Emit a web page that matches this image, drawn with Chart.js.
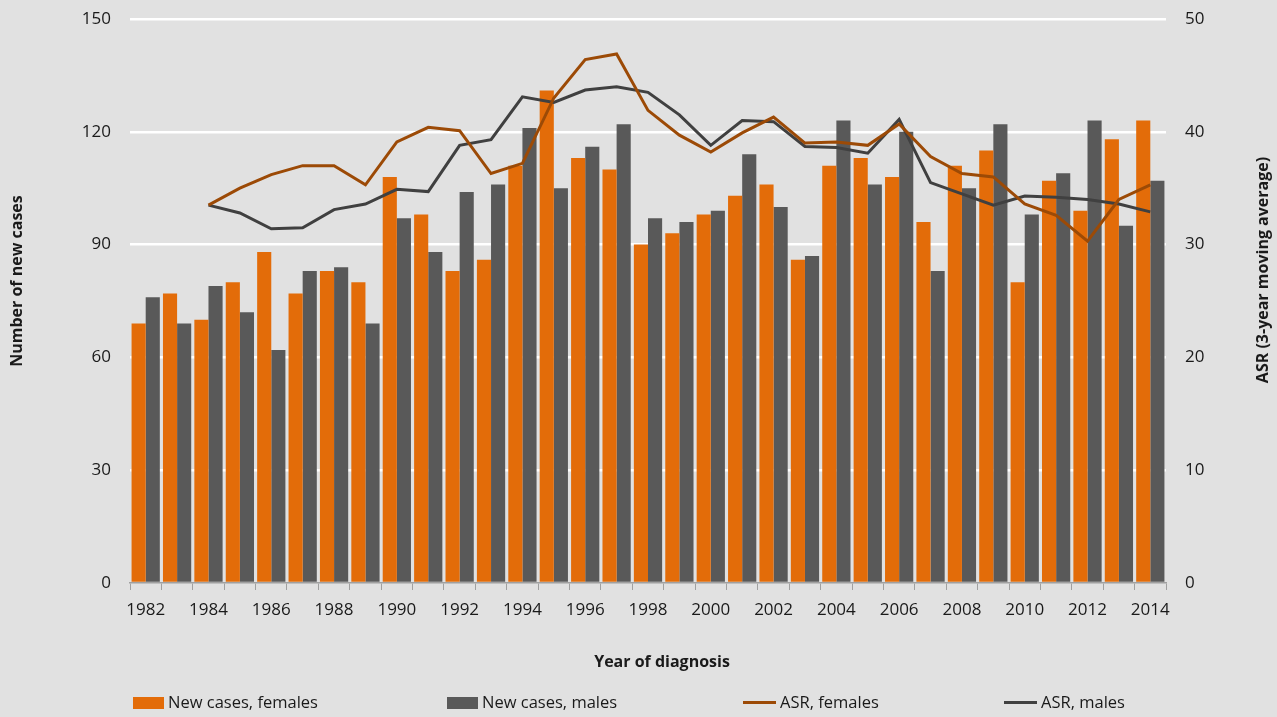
<!DOCTYPE html>
<html>
<head>
<meta charset="utf-8">
<script src="https://cdn.jsdelivr.net/npm/chart.js@4"></script>
<style>
  html, body { margin: 0; padding: 0; background: #e1e1e1; }
  #wrap { position: relative; width: 1277px; height: 717px; }
  #legend { position: absolute; left: 0; top: 690px; width: 1277px; height: 24px;
            font: 16.5px "Open Sans", sans-serif; color: #1a1a1a; }
  .item { position: absolute; top: 0; height: 24px; line-height: 24px; white-space: nowrap; }
  .item i { position: absolute; display: block; }
  .item span { position: absolute; }
</style>
</head>
<body>
<div id="wrap">
  <canvas id="chart" width="1277" height="717"></canvas>
  <div id="legend"></div>
</div>
<script>
// years of diagnosis
var years = ['1982', '1983', '1984', '1985', '1986', '1987', '1988', '1989', '1990', '1991', '1992',
  '1993', '1994', '1995', '1996', '1997', '1998', '1999', '2000', '2001', '2002', '2003',
  '2004', '2005', '2006', '2007', '2008', '2009', '2010', '2011', '2012', '2013', '2014'];

// number of new cases
var femaleCases = [69, 77, 70, 80, 88, 77, 83, 80, 108, 98, 83, 86, 111, 131, 113, 110, 90, 93,
  98, 103, 106, 86, 111, 113, 108, 96, 111, 115, 80, 107, 99, 118, 123];
var maleCases = [76, 69, 79, 72, 62, 83, 84, 69, 97, 88, 104, 106, 121, 105, 116, 122, 97, 96,
  99, 114, 100, 87, 123, 106, 120, 83, 105, 122, 98, 109, 123, 95, 107];

// ASR, 3-year moving average (no value for the first two years)
var asrFemales = [null, null, 33.5, 35.0, 36.2, 37.0, 37.0, 35.3, 39.1, 40.4, 40.1, 36.3, 37.2,
  43.0, 46.4, 46.9, 41.9, 39.7, 38.2, 39.9, 41.3, 39.0, 39.1, 38.8, 40.7, 37.8, 36.3, 36.0,
  33.6, 32.6, 30.3, 34.0, 35.3];
var asrMales = [null, null, 33.5, 32.8, 31.4, 31.5, 33.1, 33.6, 34.9, 34.7, 38.8, 39.3, 43.1,
  42.6, 43.7, 44.0, 43.5, 41.5, 38.8, 41.0, 40.9, 38.7, 38.6, 38.1, 41.1, 35.5, 34.5, 33.5,
  34.3, 34.2, 34.0, 33.6, 32.9];

var ORANGE = '#e36c09';
var GREY = '#595959';
var BROWN = '#9c4a06';
var DARK = '#404040';
var TEXT = '#1a1a1a';

var tickFont = { family: 'Open Sans', size: 17 };

// axis titles, drawn by hand so the right one reads bottom-to-top like the left one
var axisTitles = {
  id: 'axisTitles',
  afterDraw: function(chart) {
    var ctx = chart.ctx;
    ctx.save();
    ctx.fillStyle = TEXT;
    ctx.font = 'bold 16px "Open Sans"';
    ctx.textAlign = 'center';
    ctx.textBaseline = 'middle';
    ctx.fillText('Year of diagnosis', 662, 662);

    ctx.translate(17, 281);
    ctx.rotate(-Math.PI / 2);
    ctx.fillText('Number of new cases', 0, 0);
    ctx.restore();

    ctx.save();
    ctx.fillStyle = TEXT;
    ctx.font = 'bold 16px "Open Sans"';
    ctx.textAlign = 'center';
    ctx.textBaseline = 'middle';
    ctx.translate(1263, 270);
    ctx.rotate(-Math.PI / 2);
    ctx.fillText('ASR (3-year moving average)', 0, 0);
    ctx.restore();
  }
};

// fixed axis widths; drop the extra top/bottom room chart.js reserves from tick padding
function fitVertical(width) {
  return function(scale) {
    scale.width = width;
    scale.paddingTop = 0;
    scale.paddingBottom = 0;
  };
}

var data = {
  labels: years,
  datasets: [{
    type: 'line',
    label: 'ASR, females',
    data: asrFemales,
    yAxisID: 'y2',
    borderColor: BROWN,
    backgroundColor: BROWN,
    borderWidth: 3,
    pointRadius: 0,
    tension: 0,
    order: 1
  }, {
    type: 'line',
    label: 'ASR, males',
    data: asrMales,
    yAxisID: 'y2',
    borderColor: DARK,
    backgroundColor: DARK,
    borderWidth: 3,
    pointRadius: 0,
    tension: 0,
    order: 1
  }, {
    type: 'bar',
    label: 'New cases, females',
    data: femaleCases,
    yAxisID: 'y',
    backgroundColor: ORANGE,
    barPercentage: 1.0,
    categoryPercentage: 0.9,
    order: 2
  }, {
    type: 'bar',
    label: 'New cases, males',
    data: maleCases,
    yAxisID: 'y',
    backgroundColor: GREY,
    barPercentage: 1.0,
    categoryPercentage: 0.9,
    order: 2
  }]
};

var options = {
  responsive: false,
  animation: false,
  layout: { padding: { top: 19, left: 0, right: 0, bottom: 40 } },
  plugins: {
    legend: { display: false },
    tooltip: { enabled: false }
  },
  scales: {
    x: {
      offset: true,
      grid: {
        offset: true,
        drawOnChartArea: false,
        drawTicks: true,
        tickLength: 7,
        color: '#a0a0a0'
      },
      border: { display: true, color: '#a0a0a0', width: 1.5 },
      ticks: {
        autoSkip: false,
        maxRotation: 0,
        padding: 10,
        color: TEXT,
        font: tickFont,
        callback: function(value, index) {
          return index % 2 === 0 ? this.getLabelForValue(value) : '';
        }
      },
      afterFit: function(scale) { scale.height = 94; }
    },
    y: {
      position: 'left',
      min: 0,
      max: 150,
      ticks: { stepSize: 30, padding: 19, color: TEXT, font: tickFont },
      grid: {
        drawTicks: false,
        lineWidth: 2.5,
        color: function(c) { return c.tick && c.tick.value === 0 ? 'rgba(0,0,0,0)' : '#ffffff'; }
      },
      border: { display: false },
      afterFit: fitVertical(130)
    },
    y2: {
      position: 'right',
      min: 0,
      max: 50,
      ticks: { stepSize: 10, padding: 19, color: TEXT, font: tickFont },
      grid: { drawOnChartArea: false, drawTicks: false },
      border: { display: false },
      afterFit: fitVertical(111)
    }
  }
};

var chart = new Chart(document.getElementById('chart'), {
  data: data,
  options: options,
  plugins: [axisTitles]
});

// legend below the x axis title, built from the dataset styles
function buildLegend() {
  var slots = [
    { ds: 2, left: 133, kind: 'box' },
    { ds: 3, left: 447, kind: 'box' },
    { ds: 0, left: 743, kind: 'line' },
    { ds: 1, left: 1004, kind: 'line' }
  ];
  var el = document.getElementById('legend');
  slots.forEach(function(s) {
    var ds = chart.data.datasets[s.ds];
    var item = document.createElement('div');
    item.className = 'item';
    item.style.left = s.left + 'px';
    var mark = document.createElement('i');
    if (s.kind === 'box') {
      mark.style.cssText = 'left:0;top:7px;width:31px;height:12px;background:' + ds.backgroundColor;
    } else {
      mark.style.cssText = 'left:0;top:10.5px;width:33px;height:3px;background:' + ds.borderColor;
    }
    var txt = document.createElement('span');
    txt.style.left = (s.kind === 'box' ? 35 : 37) + 'px';
    txt.textContent = ds.label;
    item.appendChild(mark);
    item.appendChild(txt);
    el.appendChild(item);
  });
}
buildLegend();
</script>
</body>
</html>
